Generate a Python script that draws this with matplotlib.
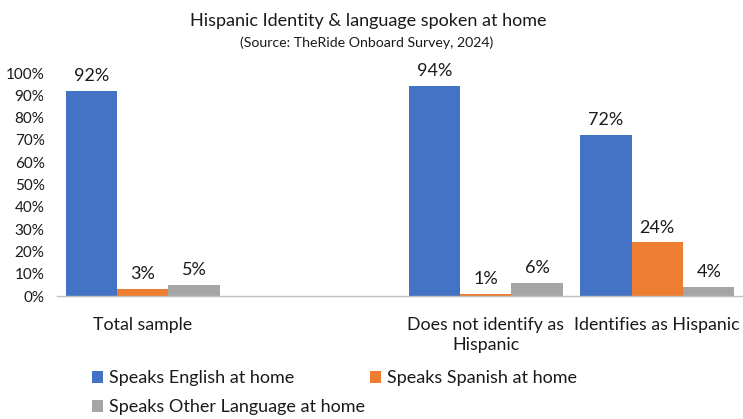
import matplotlib
matplotlib.use("Agg")
import matplotlib.pyplot as plt
import numpy as np

plt.rcParams['font.family'] = ['Lato', 'DejaVu Sans']

categories = ["Total sample", "", "Does not identify as\nHispanic", "Identifies as Hispanic"]
series_names = ["Speaks English at home", "Speaks Spanish at home", "Speaks Other Language at home"]
english = [92, None, 94, 72]
spanish = [3, None, 1, 24]
other = [5, None, 6, 4]
colors = ["#4472C4", "#ED7D31", "#A5A5A5"]
y_ticks = [0, 10, 20, 30, 40, 50, 60, 70, 80, 90, 100]

fig = plt.figure(figsize=(7.43, 4.19), dpi=100)
ax = fig.add_axes([57/743, 123/419, 686/743, 223/419])

x = np.arange(len(categories))
width = 0.30
handles = []
for i, (vals, name, col) in enumerate(zip([english, spanish, other], series_names, colors)):
    xs = [xi + (i - 1) * width for xi, v in zip(x, vals) if v is not None]
    ys = [v for v in vals if v is not None]
    bars = ax.bar(xs, ys, width, color=col, label=name)
    handles.append(bars)
    for bx, by in zip(xs, ys):
        ax.annotate(f"{by}%", (bx, by), xytext=(0, 5), textcoords="offset points",
                    ha="center", va="bottom", fontsize=13, color="#1a1a1a")

ax.set_xlim(-0.5, len(categories) - 0.5)
ax.set_ylim(0, 100)
ax.set_yticks(y_ticks)
ax.set_yticklabels([f"{t}%" for t in y_ticks], fontsize=11, color="#1a1a1a")
ax.set_xticks(x)
ax.set_xticklabels(categories, fontsize=12.8, color="#1a1a1a", linespacing=1.35)
ax.tick_params(axis="both", length=0)
ax.tick_params(axis="x", pad=15)
ax.tick_params(axis="y", pad=9)
for s in ["top", "right", "left"]:
    ax.spines[s].set_visible(False)
ax.spines["bottom"].set_color("#BFBFBF")
ax.spines["bottom"].set_linewidth(1.0)

fig.text(0.495, 0.95, "Hispanic Identity & language spoken at home", ha="center", va="center",
         fontsize=13, color="#1a1a1a")
fig.text(0.494, 0.897, "(Source: TheRide Onboard Survey, 2024)", ha="center", va="center",
         fontsize=10.2, color="#1a1a1a")

leg = fig.legend([handles[0], handles[2], handles[1]],
                 [series_names[0], series_names[2], series_names[1]],
                 ncol=2, loc="upper left", bbox_to_anchor=(0.124, 0.116),
                 frameon=False, fontsize=13.0, handlelength=0.6, handleheight=0.6,
                 handletextpad=0.35, columnspacing=0.28, labelspacing=0.72,
                 borderaxespad=0, borderpad=0)
for t in leg.get_texts():
    t.set_color("#1a1a1a")

fig.savefig("out.png", dpi=100)
